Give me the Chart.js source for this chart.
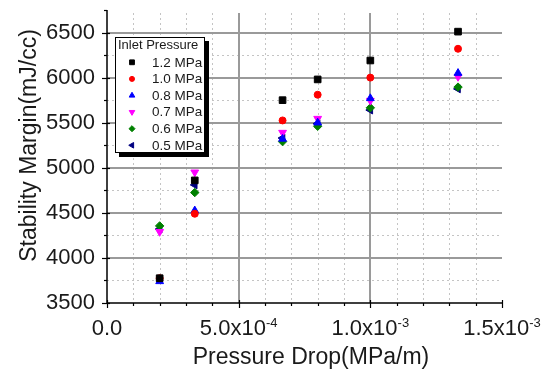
<!DOCTYPE html>
<html>
<head>
<meta charset="utf-8">
<script src="https://cdn.jsdelivr.net/npm/chart.js@4/dist/chart.umd.min.js"></script>
<style>
html,body{margin:0;padding:0;background:#fff;}
#wrap{width:551px;height:372px;}
</style>
</head>
<body>
<div id="wrap"><canvas id="c" width="551" height="372"></canvas></div>
<script>
// ---- data ----
const pressureDrop = [2.0e-4, 3.333e-4, 6.667e-4, 8.0e-4, 1.0e-3, 1.333e-3];
const sm12 = [3775, 4860, 5750, 5980, 6190, 6510];
const sm10 = [3775, 4490, 5525, 5810, 6000, 6320];
const sm08 = [3740, 4525, 5320, 5500, 5770, 6050];
const sm07 = [4290, 4950, 5390, 5545, 5745, 6010];
const sm06 = [4355, 4725, 5290, 5460, 5665, 5895];
const sm05 = [4320, 4810, 5330, 5490, 5640, 5875];
const seriesLabels = ['1.2 MPa', '1.0 MPa', '0.8 MPa', '0.7 MPa', '0.6 MPa', '0.5 MPa'];
const legendTitle = 'Inlet Pressure';
const xTickValues = [0, 5e-4, 1e-3, 1.5e-3];
const xTickBase = ['0.0', '5.0x10', '1.0x10', '1.5x10'];
const xTickSup = ['', '-4', '-3', '-3'];
const yTickValues = [3500, 4000, 4500, 5000, 5500, 6000, 6500];
const xTitle = 'Pressure Drop(MPa/m)';
const yTitle = 'Stability Margin(mJ/cc)';

const seriesValues = [sm12, sm10, sm08, sm07, sm06, sm05];
const styles = [
  {color:'#000000', pointStyle:'rect', radius:4.7, rotation:0},
  {color:'#ff0000', pointStyle:'circle', radius:3.5, rotation:0},
  {color:'#0000ff', pointStyle:'triangle', radius:4.5, rotation:0},
  {color:'#ff00ff', pointStyle:'triangle', radius:4.5, rotation:180},
  {color:'#008000', pointStyle:'rectRot', radius:4.2, rotation:0},
  {color:'#000080', pointStyle:'triangle', radius:4.5, rotation:-90}
];

const datasets = seriesValues.map((vals, i) => ({
  label: seriesLabels[i],
  data: pressureDrop.map((x, j) => ({x: x, y: vals[j]})),
  backgroundColor: styles[i].color,
  borderColor: styles[i].color,
  borderWidth: 1,
  pointStyle: styles[i].pointStyle,
  pointRadius: styles[i].radius,
  pointRotation: styles[i].rotation,
  showLine: false
}));

const TXT = '#1a1a1a';
const FONT = '"Liberation Sans", Arial, sans-serif';

function drawMarker(ctx, st, x, y, scale) {
  ctx.save();
  ctx.fillStyle = st.color; ctx.strokeStyle = st.color; ctx.lineWidth = 1;
  const r = st.radius * scale;
  if (Chart.helpers && Chart.helpers.drawPoint) {
    Chart.helpers.drawPoint(ctx, {pointStyle: st.pointStyle, radius: r, rotation: st.rotation, borderWidth: 1}, x, y);
  } else {
    ctx.beginPath(); ctx.arc(x, y, r, 0, Math.PI*2); ctx.fill();
  }
  ctx.restore();
}

const decor = {
  id: 'decor',
  beforeDatasetsDraw(chart) {
    const ctx = chart.ctx, xs = chart.scales.x, ys = chart.scales.y, a = chart.chartArea;
    ctx.save();
    // minor dotted grid
    ctx.strokeStyle = '#c4c4c4'; ctx.lineWidth = 1; ctx.setLineDash([2, 3]);
    for (let k = 1; k < 15; k++) {
      if (k % 5 === 0) continue;
      const px = Math.round(xs.getPixelForValue(k * 1e-4)) + 0.5;
      ctx.beginPath(); ctx.moveTo(px, a.top + 3); ctx.lineTo(px, a.bottom); ctx.stroke();
    }
    for (let v = 3750; v < 6500; v += 500) {
      const py = Math.round(ys.getPixelForValue(v)) + 0.5;
      ctx.beginPath(); ctx.moveTo(a.left, py); ctx.lineTo(a.right, py); ctx.stroke();
    }
    // major solid grid
    ctx.setLineDash([]); ctx.strokeStyle = '#9a9a9a'; ctx.lineWidth = 2;
    [5e-4, 1e-3].forEach(v => {
      const px = Math.round(xs.getPixelForValue(v));
      ctx.beginPath(); ctx.moveTo(px, a.top + 3); ctx.lineTo(px, a.bottom); ctx.stroke();
    });
    yTickValues.forEach(v => {
      if (v === 3500) return;
      const py = Math.round(ys.getPixelForValue(v));
      ctx.beginPath(); ctx.moveTo(a.left, py); ctx.lineTo(a.right, py); ctx.stroke();
    });
    ctx.restore();
  },
  afterDraw(chart) {
    const ctx = chart.ctx, xs = chart.scales.x, ys = chart.scales.y, a = chart.chartArea;
    ctx.save();
    // axes
    ctx.strokeStyle = '#000'; ctx.lineWidth = 1.5;
    ctx.beginPath(); ctx.moveTo(a.left, a.top); ctx.lineTo(a.left, a.bottom); ctx.lineTo(a.right, a.bottom); ctx.stroke();
    // y ticks
    ctx.lineWidth = 1.2;
    for (let v = 3500; v <= 6750; v += 250) {
      const py = Math.round(ys.getPixelForValue(v)) + 0.5;
      const major = v % 500 === 0;
      ctx.beginPath(); ctx.moveTo(a.left - (major ? 5 : 3), py); ctx.lineTo(a.left + (major ? 3 : 0), py); ctx.stroke();
    }
    // x ticks
    for (let k = 0; k <= 15; k++) {
      const px = Math.round(xs.getPixelForValue(k * 1e-4)) + 0.5;
      const major = k % 5 === 0;
      ctx.beginPath(); ctx.moveTo(px, a.bottom - (major ? 3 : 0)); ctx.lineTo(px, a.bottom + (major ? 5 : 3)); ctx.stroke();
    }
    // x tick labels with superscripts
    ctx.fillStyle = TXT; ctx.textBaseline = 'alphabetic'; ctx.textAlign = 'left';
    xTickValues.forEach((v, i) => {
      ctx.font = '22px ' + FONT;
      const wb = ctx.measureText(xTickBase[i]).width;
      ctx.font = '13px ' + FONT;
      const ws = xTickSup[i] ? ctx.measureText(xTickSup[i]).width : 0;
      const cx = xs.getPixelForValue(v);
      const x0 = cx - (wb + ws) / 2;
      ctx.font = '22px ' + FONT;
      ctx.fillText(xTickBase[i], x0, 335);
      if (xTickSup[i]) { ctx.font = '13px ' + FONT; ctx.fillText(xTickSup[i], x0 + wb, 327); }
    });
    // titles
    ctx.font = '23px ' + FONT; ctx.textAlign = 'center';
    ctx.fillText(xTitle, 311, 364);
    ctx.save();
    ctx.translate(36, 145.5); ctx.rotate(-Math.PI / 2);
    ctx.textBaseline = 'alphabetic';
    ctx.fillText(yTitle, 0, 0);
    ctx.restore();
    // legend
    const L = 115, T = 37, W = 90, H = 116;
    ctx.fillStyle = '#000'; ctx.fillRect(L + 4, T + 4, W, H);
    ctx.fillStyle = '#fff'; ctx.fillRect(L, T, W, H);
    ctx.strokeStyle = '#000'; ctx.lineWidth = 1; ctx.strokeRect(L + 0.5, T + 0.5, W - 1, H - 1);
    ctx.fillStyle = TXT; ctx.textBaseline = 'middle'; ctx.textAlign = 'left';
    ctx.font = '13px ' + FONT;
    ctx.fillText(legendTitle, 118, 45.5);
    ctx.font = '13.5px ' + FONT;
    seriesLabels.forEach((lab, i) => {
      const ry = 62.3 + i * 16.6;
      drawMarker(ctx, styles[i], 132, ry, 0.72);
      ctx.fillStyle = TXT;
      ctx.fillText(lab, 152, ry + 0.5);
    });
    ctx.restore();
  }
};

new Chart(document.getElementById('c'), {
  type: 'scatter',
  data: {datasets},
  options: {
    responsive: false,
    animation: false,
    devicePixelRatio: 1,
    layout: {padding: {top: 10, right: 49, bottom: 0, left: 0}},
    plugins: {legend: {display: false}, tooltip: {enabled: false}},
    scales: {
      x: {
        type: 'linear', min: 0, max: 1.5e-3,
        ticks: {display: false},
        grid: {display: false, drawTicks: false},
        border: {display: false},
        afterFit(s) { s.height = 69; s.paddingLeft = 0; s.paddingRight = 0; }
      },
      y: {
        type: 'linear', min: 3500, max: 6750,
        afterBuildTicks(s) { s.ticks = yTickValues.map(v => ({value: v})); },
        ticks: {font: {size: 22, family: FONT}, color: TXT, padding: 12,
                callback: v => String(v)},
        grid: {display: false, drawTicks: false},
        border: {display: false},
        afterFit(s) { s.width = 107; s.paddingTop = 0; s.paddingBottom = 0; }
      }
    }
  },
  plugins: [decor]
});
</script>
</body>
</html>
